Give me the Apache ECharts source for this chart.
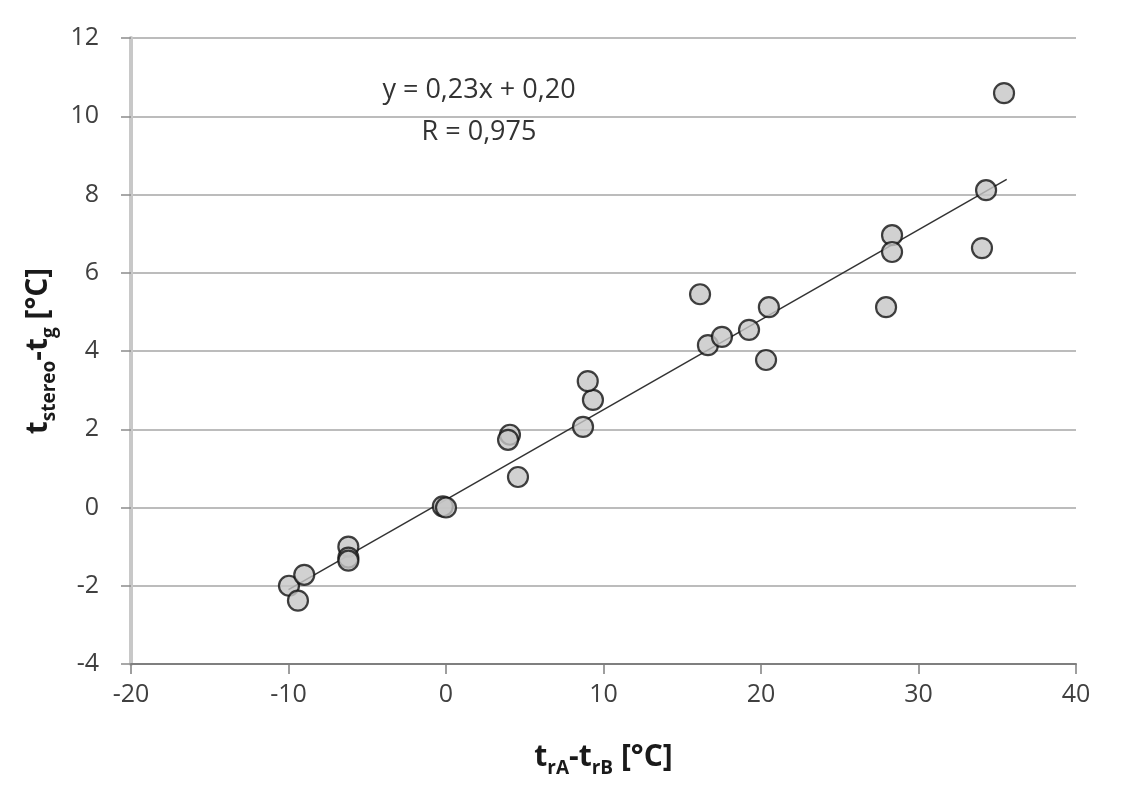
<!DOCTYPE html>
<html>
<head>
<meta charset="utf-8">
<script src="https://cdn.jsdelivr.net/npm/echarts@6/dist/echarts.min.js"></script>
<style>
  html, body { margin: 0; padding: 0; background: #fff; }
  #chart { width: 1127px; height: 800px; }
</style>
</head>
<body>
<div id="chart"></div>
<script>
// measured points: t_rA - t_rB vs t_stereo - t_g
const xValues = [-9.97, -9.4, -9.0, -6.2, -6.2, -6.2, -0.2, 0.0, 4.06, 3.94, 4.57, 8.7, 9.33, 9.0,
  16.13, 16.63, 17.52, 19.24, 20.5, 20.32, 27.94, 28.32, 28.32, 34.03, 34.29, 35.43]
const yValues = [-2.0, -2.38, -1.72, -1.0, -1.28, -1.36, 0.03, 0.0, 1.86, 1.73, 0.78, 2.06, 2.75, 3.23,
  5.45, 4.15, 4.36, 4.54, 5.12, 3.77, 5.12, 6.96, 6.53, 6.63, 8.11, 10.59]

// linear trend line from the fitted equation
const slope = 0.23
const intercept = 0.20
const trendRange = [-10.0, 35.6]

const xTicks = { min: -20, max: 40, interval: 10 }
const yTicks = { min: -4, max: 12, interval: 2 }

const points = xValues.map((x, i) => [x, yValues[i]])
const trend = trendRange.map(x => [x, slope * x + intercept])

const chart = echarts.init(document.getElementById('chart'))

const tickFont = {
  fontFamily: 'Open Sans',
  fontSize: 25,
  color: '#404040'
}

// bold title with subscripts
const titleRich = {
  t: { fontFamily: 'Open Sans', fontWeight: 'bold', fontSize: 30, color: '#1a1a1a', lineHeight: 40, verticalAlign: 'bottom' },
  s: { fontFamily: 'Open Sans', fontWeight: 'bold', fontSize: 19, color: '#1a1a1a', lineHeight: 40, verticalAlign: 'bottom', padding: [0, 0, -6, 0] }
}

const option = {
  animation: false,
  backgroundColor: '#fff',
  grid: {
    left: 131,
    right: 51,
    top: 38,
    bottom: 136
  },
  xAxis: {
    type: 'value',
    min: xTicks.min,
    max: xTicks.max,
    interval: xTicks.interval,
    name: '{t|t}{s|rA}{t|-t}{s|rB}{t| [°C]}',
    nameLocation: 'middle',
    nameGap: 68,
    nameTextStyle: { rich: titleRich },
    axisLine: { onZero: false, lineStyle: { color: '#7f7f7f', width: 2 } },
    axisTick: { show: true, length: 10, lineStyle: { color: '#7f7f7f', width: 1.5 } },
    axisLabel: { ...tickFont, margin: 18 },
    splitLine: { show: false }
  },
  yAxis: {
    type: 'value',
    min: yTicks.min,
    max: yTicks.max,
    interval: yTicks.interval,
    name: '{t|t}{s|stereo}{t|-t}{s|g}{t| [°C]}',
    nameLocation: 'middle',
    nameRotate: 90,
    nameGap: 76,
    nameTextStyle: { rich: titleRich },
    axisLine: { onZero: false, lineStyle: { color: '#c8c8c8', width: 4 } },
    axisTick: { show: true, length: 10, lineStyle: { color: '#8c8c8c', width: 1.5 } },
    axisLabel: { ...tickFont, margin: 32 },
    splitLine: { show: true, lineStyle: { color: '#a6a6a6', width: 1.5 } }
  },
  graphic: [
    {
      type: 'text',
      x: 479,
      y: 90,
      style: {
        text: 'y = 0,23x + 0,20',
        fontFamily: 'Open Sans',
        fontSize: 27,
        fill: '#333',
        align: 'center',
        verticalAlign: 'middle'
      }
    },
    {
      type: 'text',
      x: 479,
      y: 132,
      style: {
        text: 'R = 0,975',
        fontFamily: 'Open Sans',
        fontSize: 27,
        fill: '#333',
        align: 'center',
        verticalAlign: 'middle'
      }
    }
  ],
  series: [
    {
      type: 'line',
      data: trend,
      symbol: 'none',
      lineStyle: { color: '#333', width: 1.5 },
      z: 1
    },
    {
      type: 'scatter',
      data: points,
      symbol: 'circle',
      symbolSize: 20,
      itemStyle: {
        color: '#c6c6c6',
        borderColor: '#111',
        borderWidth: 2.2
      },
      z: 2
    }
  ]
}

chart.setOption(option)
</script>
</body>
</html>
